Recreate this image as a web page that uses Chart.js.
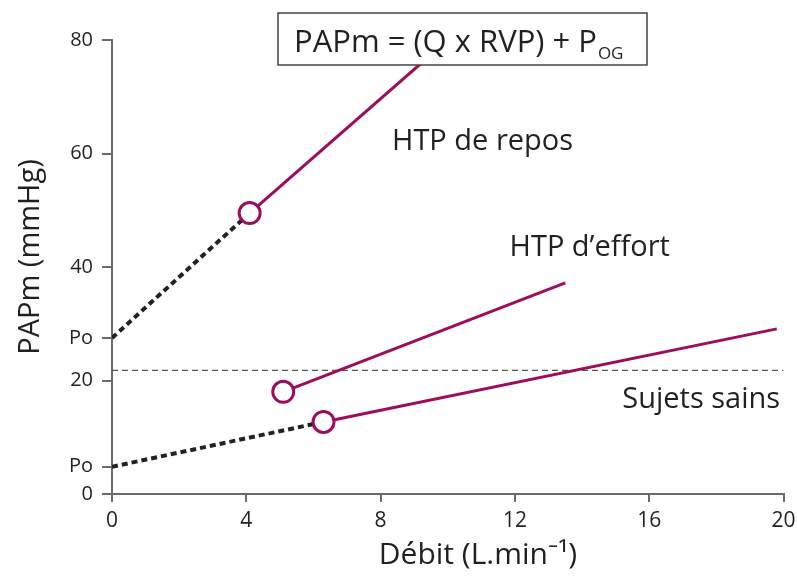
<!DOCTYPE html>
<html>
<head>
<meta charset="utf-8">
<script src="https://cdn.jsdelivr.net/npm/chart.js@4"></script>
<style>
  body { margin: 0; background: #fff; }
  #wrap { width: 797px; height: 576px; }
</style>
</head>
<body>
<div id="wrap"><canvas id="papChart" width="797" height="576"></canvas></div>
<script>
// Values (flow in L/min, pressure in mmHg)
// first point = Po (intercept), then the measured point, then the end of the line
const restFlow = [0, 4.1, 10];
const restPressure = [27.5, 49.5, 80];
const effortFlow = [5.1, 13.5];
const effortPressure = [18, 37.2];
const healthyFlow = [0, 6.3, 19.8];
const healthyPressure = [4.8, 12.7, 29.1];
const refFlow = [0, 20];
const refPressure = [21.8, 21.8];

const xTickValues = [0, 4, 8, 12, 16, 20];
const yTickValues = [0, 4.8, 20, 27.5, 40, 60, 80];
const yTickLabels = ['0', 'Po', '20', 'Po', '40', '60', '80'];

const MAGENTA = '#9c0d5c';
const INK = '#231f20';
const AXIS = '#6b6b6b';
const FONT = '"Open Sans"';

function pts(xs, ys) {
    return xs.map((v, i) => ({ x: v, y: ys[i] }));
}

function solidLine(xs, ys) {
    return {
        data: pts(xs, ys),
        borderColor: MAGENTA,
        borderWidth: 3,
        pointRadius: xs.map((v, i) => i === 0 ? 10.5 : 0),
        pointBorderWidth: 3,
        pointBorderColor: MAGENTA,
        pointBackgroundColor: '#fff'
    };
}

function dottedLine(xs, ys) {
    return {
        data: pts(xs, ys),
        borderColor: '#222',
        borderWidth: 4,
        borderDash: [6, 4],
        pointRadius: 0
    };
}

// text labels, formula box and axis titles
const notesPlugin = {
    id: 'notes',
    afterDatasetsDraw(chart) {
        const { ctx } = chart;
        const x = chart.scales.x;
        const y = chart.scales.y;
        ctx.save();
        ctx.fillStyle = INK;
        ctx.textBaseline = 'alphabetic';

        ctx.font = '29px ' + FONT;
        ctx.textAlign = 'left';
        ctx.fillText('HTP de repos', x.getPixelForValue(8.34), y.getPixelForValue(60.6));
        ctx.fillText('HTP d\u2019effort', x.getPixelForValue(11.84), y.getPixelForValue(41.9));
        ctx.textAlign = 'right';
        ctx.fillText('Sujets sains', x.getPixelForValue(19.9), y.getPixelForValue(15.2));

        // formula box
        ctx.fillStyle = '#fff';
        ctx.fillRect(278, 13, 369, 52);
        ctx.strokeStyle = '#444';
        ctx.lineWidth = 1.5;
        ctx.strokeRect(278, 13, 369, 52);
        ctx.fillStyle = INK;
        ctx.textAlign = 'left';
        ctx.font = '31px ' + FONT;
        const main = 'PAPm = (Q x RVP) + P';
        ctx.fillText(main, 294, 52);
        const w = ctx.measureText(main).width;
        ctx.font = '17px ' + FONT;
        ctx.fillText('OG', 294 + w + 1, 59);

        // axis titles
        ctx.font = '30px ' + FONT;
        ctx.textAlign = 'center';
        ctx.fillText('D\u00e9bit (L.min\u207b\u00b9)', 478, 564);

        ctx.translate(39, 257);
        ctx.rotate(-Math.PI / 2);
        ctx.font = '29px ' + FONT;
        ctx.fillText('PAPm (mmHg)', 0, 0);
        ctx.restore();
    }
};

new Chart(document.getElementById('papChart'), {
    type: 'line',
    data: {
        datasets: [
            solidLine(restFlow.slice(1), restPressure.slice(1)),
            solidLine(effortFlow, effortPressure),
            solidLine(healthyFlow.slice(1), healthyPressure.slice(1)),
            dottedLine(restFlow.slice(0, 2), restPressure.slice(0, 2)),
            dottedLine(healthyFlow.slice(0, 2), healthyPressure.slice(0, 2)),
            {
                data: pts(refFlow, refPressure),
                borderColor: '#555',
                borderWidth: 1.3,
                borderDash: [6, 4],
                pointRadius: 0
            }
        ]
    },
    options: {
        responsive: false,
        animation: false,
        layout: { padding: { top: 40, right: 11, left: 0, bottom: 0 } },
        plugins: {
            legend: { display: false },
            tooltip: { enabled: false }
        },
        scales: {
            x: {
                type: 'linear',
                min: 0,
                max: 20,
                afterBuildTicks: s => { s.ticks = xTickValues.map(v => ({ value: v })); },
                afterFit: s => { s.height = 82; s.paddingLeft = 0; s.paddingRight = 0; },
                ticks: { color: INK, font: { family: 'Open Sans', size: 21 }, padding: 6, maxRotation: 0 },
                grid: { drawOnChartArea: false, tickLength: 8, color: AXIS, lineWidth: 2 },
                border: { color: AXIS, width: 2 }
            },
            y: {
                type: 'linear',
                min: 0,
                max: 80,
                afterBuildTicks: s => { s.ticks = yTickValues.map(v => ({ value: v })); },
                afterFit: s => { s.width = 112; s.paddingTop = 0; s.paddingBottom = 0; },
                ticks: {
                    color: INK,
                    font: { family: 'Open Sans', size: 20 },
                    padding: 9,
                    callback: (v, i) => yTickLabels[i]
                },
                grid: { drawOnChartArea: false, tickLength: 10, color: AXIS, lineWidth: 2 },
                border: { color: AXIS, width: 2 }
            }
        }
    },
    plugins: [notesPlugin]
});
</script>
</body>
</html>
